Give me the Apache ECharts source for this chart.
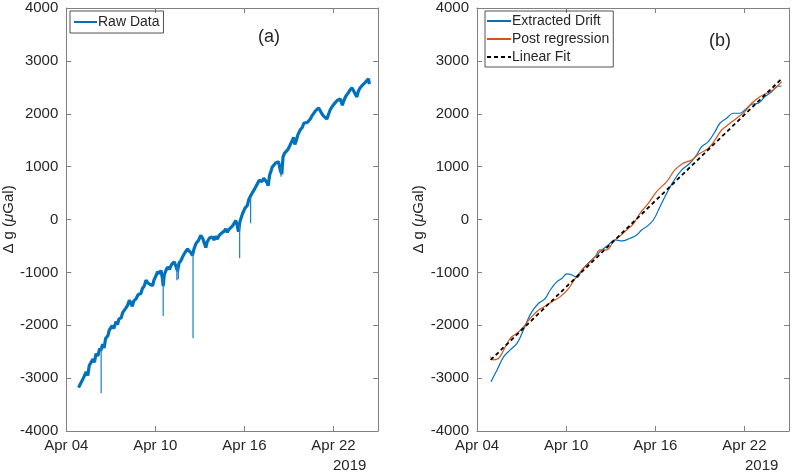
<!DOCTYPE html>
<html>
<head>
<meta charset="utf-8">
<script src="https://cdn.jsdelivr.net/npm/echarts@6/dist/echarts.min.js"></script>
<style>html,body{margin:0;padding:0;background:#fff}#c{width:793px;height:474px}</style>
</head>
<body>
<div id="c"></div>
<script>
// Days since Apr 04 2019 00:00
var xTickDays = [0, 6, 12, 18];
var xTickLabels = ['Apr 04', 'Apr 10', 'Apr 16', 'Apr 22'];
var yTicks = [-4000, -3000, -2000, -1000, 0, 1000, 2000, 3000, 4000];

// (a) Raw data
var rawDays = [0.83,0.95,1.05,1.15,1.25,1.34,1.45,1.55,1.68,1.8,1.9,2.0,2.13,2.25,2.33,2.45,2.55,
2.65,2.8,2.9,3.0,3.1,3.2,3.36,3.45,3.55,3.7,3.8,3.91,4.0,4.12,4.25,4.35,4.45,4.55,4.7,4.85,5.03,5.12,5.25,5.37,5.5,5.65,5.82,5.9,6.05,6.15,6.3,6.38,6.47,6.53,6.6,6.72,6.82,6.95,7.1,7.27,7.38,7.5,7.6,7.72,7.83,7.95,8.05,8.17,8.3,8.42,8.5,8.6,8.75,8.9,9.06,9.2,9.3,9.4,9.5,9.65,9.84,9.95,10.05,10.18,10.3,10.45,10.6,10.74,10.85,10.95,11.07,11.2,11.32,11.41,11.5,11.6,11.7,11.86,11.95,12.05,12.19,12.3,12.42,12.52,12.65,12.75,12.88,13.0,13.09,13.2,13.3,13.43,13.52,13.6,13.7,13.8,13.87,14.0,14.1,14.2,14.3,14.43,14.52,14.6,14.7,14.8,14.95,15.1,15.2,15.32,15.4,15.48,15.6,15.77,15.9,16.0,16.1,16.25,16.44,16.55,16.66,16.8,17.0,17.1,17.22,17.35,17.46,17.56,17.68,17.79,17.9,18.0,18.12,18.25,18.35,18.46,18.55,18.6,18.7,18.85,19.01,19.12,19.24,19.35,19.45,19.58,19.68,19.8,19.95,20.05,20.13,20.25,20.36,20.42];
var rawVals = [-3180,-3110,-3140,-3000,-3030,-2880,-2950,-2760,-2760,-2640,-2700,-2540,-2580,-2440,-2480,-2360,-2430,
-2250,-2200,-2090,-2100,-2010,-2060,-1930,-1990,-1880,-1860,-1760,-1780,-1680,-1630,-1530,-1580,-1640,-1540,-1500,-1420,-1400,-1310,-1260,-1150,-1200,-1230,-1250,-1150,-1060,-990,-1020,-960,-1100,-1260,-1050,-960,-900,-940,-850,-800,-880,-980,-820,-780,-710,-680,-600,-560,-600,-640,-680,-560,-450,-400,-300,-360,-450,-530,-420,-350,-330,-390,-320,-370,-300,-260,-230,-180,-240,-190,-220,-120,-70,-20,-90,-230,-40,100,80,220,260,380,450,420,560,610,640,740,770,720,780,760,700,640,840,920,990,1010,1070,1050,1090,920,860,1180,1250,1230,1330,1420,1480,1550,1420,1480,1600,1700,1740,1820,1830,1840,1900,1960,1990,2060,2110,2060,2000,1950,1930,1900,2000,2080,2130,2170,2210,2250,2230,2280,2200,2160,2250,2340,2400,2450,2490,2440,2380,2320,2430,2490,2540,2520,2590,2620,2660,2560];

// (a) narrow spikes in raw data
var spikeDays = [2.35, 6.53, 7.45, 7.55, 8.54, 11.68, 12.42, 14.47];
var spikeTops = [-2420, -1100, -880, -900, -620, -100, 430, 1000];
var spikeBottoms = [-3286, -1824, -1150, -1130, -2246, -733, -71, 810];

// (b) Extracted drift
var driftDays = [0.94,1.35,1.8,2.24,2.69,3.03,3.36,3.7,4.15,4.6,4.93,5.38,5.72,6.06,6.39,6.73,7.07,7.52,7.96,8.28,8.84,9.29,9.74,10.3,10.75,11.08,11.42,11.87,12.32,12.77,13.21,13.78,14.33,14.78,15.12,15.57,16.02,16.35,16.8,17.25,17.7,18.03,18.49,18.93,19.38,19.83,20.17,20.5];
var driftVals = [-3067,-2845,-2594,-2467,-2341,-2152,-1932,-1743,-1584,-1490,-1333,-1176,-1112,-1030,-1050,-1093,-954,-816,-703,-608,-482,-387,-406,-355,-293,-198,-135,-9,243,496,716,937,1063,1220,1377,1472,1661,1820,1914,2009,2009,2071,2179,2198,2323,2417,2512,2525];

// (b) Post regression
var postDays = [0.9,1.12,1.46,1.8,2.24,2.69,3.14,3.59,4.15,4.6,5.05,5.61,6.17,6.62,7.07,7.52,7.96,8.28,8.73,9.18,9.62,10.07,10.52,10.97,11.53,12.09,12.77,13.32,13.88,14.45,15.01,15.57,16.02,16.47,17.03,17.48,18.03,18.49,19.04,19.5,19.94,20.5];
var postVals = [-2594,-2656,-2625,-2467,-2246,-2152,-2026,-1868,-1711,-1635,-1554,-1459,-1301,-1112,-954,-828,-703,-576,-576,-419,-312,-198,-85,117,306,527,716,937,1063,1126,1252,1347,1504,1693,1820,1914,2040,2198,2323,2387,2449,2606];

// (b) Linear fit
var fitDays = [0.92, 20.5];
var fitVals = [-2656, 2660];

function zip(a, b) { return a.map(function (v, i) { return [v, b[i]]; }); }
function spikeData() {
  var d = [];
  for (var i = 0; i < spikeDays.length; i++) {
    d.push([spikeDays[i], spikeTops[i]]);
    d.push([spikeDays[i], spikeBottoms[i]]);
    d.push([spikeDays[i], null]);
  }
  return d;
}
var FONT = 'Liberation Sans, Arial, Helvetica, sans-serif';
var AX = '#808080';
var TXT = '#262626';
function xLabel(v) { var i = xTickDays.indexOf(v); return i >= 0 ? xTickLabels[i] : ''; }
function yLabel(v) { return yTicks.indexOf(v) >= 0 ? String(v) : ''; }

function xAxes(g) {
  var base = {
    type: 'value', gridIndex: g, min: 0, max: 21, interval: 6,
    axisLine: { onZero: false, lineStyle: { color: AX, width: 1 } },
    axisTick: { inside: true, length: 5, lineStyle: { color: AX } },
    splitLine: { show: false }
  };
  var bottom = Object.assign({}, base, { position: 'bottom',
    axisLabel: { formatter: xLabel, color: TXT, fontSize: 15, fontFamily: FONT, margin: 7 } });
  var top = Object.assign({}, base, { position: 'top', axisLabel: { show: false } });
  return [bottom, top];
}
function yAxes(g) {
  var base = {
    type: 'value', gridIndex: g, min: -4000, max: 4000, interval: 1000,
    axisLine: { show: true, onZero: false, lineStyle: { color: AX, width: 1 } },
    axisTick: { show: true, inside: true, length: 5, lineStyle: { color: AX } },
    splitLine: { show: false }
  };
  var left = Object.assign({}, base, { position: 'left',
    name: '{n|Δ g (}{i|μ}{n|Gal)}', nameLocation: 'middle', nameGap: 37, nameRotate: 90,
    nameTextStyle: { rich: { n: { fontSize: 15, color: TXT, fontFamily: FONT }, i: { fontSize: 15, color: TXT, fontFamily: FONT, fontStyle: 'italic' } } },
    axisLabel: { formatter: yLabel, color: TXT, fontSize: 15, fontFamily: FONT, margin: 8 } });
  var right = Object.assign({}, base, { position: 'right', axisLabel: { show: false } });
  return [left, right];
}

var option = {
  animation: false,
  backgroundColor: '#fff',
  grid: [
    { left: 65, top: 8, width: 313, height: 423 },
    { left: 477, top: 8, width: 312, height: 423 }
  ],
  xAxis: xAxes(0).concat(xAxes(1)),
  yAxis: yAxes(0).concat(yAxes(1)),
  legend: [
    { data: ['Raw Data'], left: 70, top: 11, orient: 'vertical', padding: [4, 4, 4, 3],
      borderColor: '#262626', borderWidth: 0.8, itemWidth: 23, itemHeight: 10, itemGap: 2,
      itemStyle: { opacity: 0 },
      textStyle: { fontSize: 14, color: TXT, fontFamily: FONT, padding: [0, 0, 0, -4] } },
    { data: ['Extracted Drift', 'Post regression', 'Linear Fit'], left: 485, top: 11, orient: 'vertical',
      padding: [3, 4, 3, 1], borderColor: '#262626', borderWidth: 0.8, itemWidth: 24, itemHeight: 10, itemGap: 4,
      itemStyle: { opacity: 0 },
      textStyle: { fontSize: 14, color: TXT, fontFamily: FONT, padding: [0, 0, 0, -4] } }
  ],
  graphic: [
    { type: 'text', left: 258, top: 28, style: { text: '(a)', fontSize: 18, fill: TXT, fontFamily: FONT } },
    { type: 'text', left: 709, top: 32, style: { text: '(b)', fontSize: 18, fill: TXT, fontFamily: FONT } },
    { type: 'text', left: 333, top: 458, style: { text: '2019', fontSize: 15, fill: TXT, fontFamily: FONT } },
    { type: 'text', left: 745, top: 458, style: { text: '2019', fontSize: 15, fill: TXT, fontFamily: FONT } }
  ],
  series: [
    { name: 'Raw Data', type: 'line', xAxisIndex: 0, yAxisIndex: 0, data: zip(rawDays, rawVals),
      symbol: 'none', lineStyle: { color: '#0072BD', width: 3.2 }, itemStyle: { color: '#0072BD' } },
    { name: 'spikes', type: 'line', xAxisIndex: 0, yAxisIndex: 0, data: spikeData(), connectNulls: false,
      symbol: 'none', lineStyle: { color: '#1a7fc6', width: 1.2 } },
    { name: 'Extracted Drift', type: 'line', xAxisIndex: 2, yAxisIndex: 2, data: zip(driftDays, driftVals),
      smooth: 0.4, symbol: 'none', lineStyle: { color: '#0072BD', width: 1.2 }, itemStyle: { color: '#0072BD' } },
    { name: 'Post regression', type: 'line', xAxisIndex: 2, yAxisIndex: 2, data: zip(postDays, postVals),
      smooth: 0.4, symbol: 'none', lineStyle: { color: '#D95319', width: 1.2 }, itemStyle: { color: '#D95319' } },
    { name: 'Linear Fit', type: 'line', xAxisIndex: 2, yAxisIndex: 2, data: zip(fitDays, fitVals),
      symbol: 'none', lineStyle: { color: '#000', width: 1.8, type: [4, 3] }, itemStyle: { color: '#000' } }
  ]
};
echarts.init(document.getElementById('c'), null, { renderer: 'canvas' }).setOption(option);
</script>
</body>
</html>
